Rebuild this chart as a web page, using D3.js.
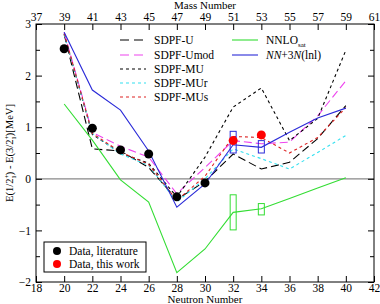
<!DOCTYPE html>
<html>
<head>
<meta charset="utf-8">
<script src="https://cdn.jsdelivr.net/npm/d3@7"></script>
<style>
  body { margin: 0; background: #fff; }
  text { font-family: "Liberation Serif", "DejaVu Serif", serif; }
</style>
</head>
<body>
<svg id="chart" width="380" height="304"></svg>
<script>
// neutron numbers for the model curves
const neutrons = [20, 22, 24, 26, 28, 30, 32, 34, 36, 38, 40];

const sdpfU    = [2.80, 0.58, 0.54, 0.22, -0.40, -0.05, 0.48, 0.19, 0.32, 0.78, 1.42];
const sdpfUmod = [2.84, 0.90, 0.63, 0.42, -0.29, 0.22, 0.74, 0.68, 0.71, 1.22, 1.90];
const sdpfMU   = [2.80, 0.86, 0.50, 0.30, -0.35, 0.42, 1.39, 1.76, 0.74, 1.17, 2.49];
const sdpfMUr  = [2.80, 0.88, 0.48, 0.26, -0.45, 0.00, 0.58, 0.39, 0.19, 0.51, 0.84];
const sdpfMUs  = [2.82, 0.88, 0.52, 0.28, -0.42, 0.05, 0.82, 0.80, 0.50, 0.80, 1.38];
const nnloSat  = [1.45, 0.75, -0.02, -0.45, -1.82, -1.36, -0.65, -0.58, -0.38, -0.18, 0.02];
const nn3n     = [2.84, 1.72, 1.33, 0.54, -0.55, -0.10, 0.66, 0.61, 0.90, 1.18, 1.37];

// uncertainty boxes at N=32, 34
const boxN     = [32, 34];
const nn3nLo   = [0.50, 0.50];
const nn3nHi   = [0.92, 0.74];
const nnloLo   = [-0.99, -0.70];
const nnloHi   = [-0.31, -0.48];

// experimental points
const litN   = [20, 22, 24, 26, 28, 30];
const litE   = [2.52, 0.98, 0.56, 0.48, -0.35, -0.08];
const thisN  = [32, 34];
const thisE  = [0.74, 0.85];

const xTicks = [18, 20, 22, 24, 26, 28, 30, 32, 34, 36, 38, 40, 42];
const yTicks = [-2, -1.5, -1, -0.5, 0, 0.5, 1, 1.5, 2, 2.5, 3];

const svg = d3.select("#chart");
const m = { left: 36, right: 6, top: 24, bottom: 22 };
const W = 380, H = 304;

const x = d3.scaleLinear().domain([18, 42]).range([m.left, W - m.right]);
const y = d3.scaleLinear().domain([-2, 3]).range([H - m.bottom, m.top]);

// zero line
svg.append("line")
  .attr("x1", x(18)).attr("x2", x(42))
  .attr("y1", y(0)).attr("y2", y(0))
  .attr("stroke", "#888").attr("stroke-width", 1.3);

const series = [
  { name: "SDPF-U",    vals: sdpfU,    color: "#000",    dash: "8,4" },
  { name: "SDPF-Umod", vals: sdpfUmod, color: "#ee44ee", dash: "8,4" },
  { name: "SDPF-MU",   vals: sdpfMU,   color: "#000",    dash: "3,3" },
  { name: "SDPF-MUr",  vals: sdpfMUr,  color: "#33e0f0", dash: "3,3" },
  { name: "SDPF-MUs",  vals: sdpfMUs,  color: "#dd2222", dash: "3,3" },
  { name: "NNLOsat",   vals: nnloSat,  color: "#33dd33", dash: null },
  { name: "NN+3N(lnl)",vals: nn3n,     color: "#2a2ad8", dash: null }
];

const line = d3.line().x((d, i) => x(neutrons[i])).y(d => y(d));

svg.append("g").selectAll("path")
  .data(series)
  .join("path")
  .attr("d", d => line(d.vals))
  .attr("fill", "none")
  .attr("stroke", d => d.color)
  .attr("stroke-width", 1.1)
  .attr("stroke-dasharray", d => d.dash);

// boxes
function boxes(lo, hi, color) {
  svg.append("g").selectAll("rect")
    .data(boxN)
    .join("rect")
    .attr("x", d => x(d) - 3)
    .attr("width", 6)
    .attr("y", (d, i) => y(hi[i]))
    .attr("height", (d, i) => y(lo[i]) - y(hi[i]))
    .attr("fill", "none")
    .attr("stroke", color)
    .attr("stroke-width", 1);
}
boxes(nn3nLo, nn3nHi, "#2a2ad8");
boxes(nnloLo, nnloHi, "#33dd33");

// data points
svg.append("g").selectAll("circle")
  .data(litN)
  .join("circle")
  .attr("cx", d => x(d))
  .attr("cy", (d, i) => y(litE[i]))
  .attr("r", 4.5)
  .attr("fill", "#000");

svg.append("g").selectAll("circle")
  .data(thisN)
  .join("circle")
  .attr("cx", d => x(d))
  .attr("cy", (d, i) => y(thisE[i]))
  .attr("r", 4.5)
  .attr("fill", "#f00");

// frame
svg.append("rect")
  .attr("x", x(18)).attr("y", y(3))
  .attr("width", x(42) - x(18)).attr("height", y(-2) - y(3))
  .attr("fill", "none").attr("stroke", "#000").attr("stroke-width", 1);

// axes, ticks pointing inward
const fs = "11.5px";
const axB = svg.append("g")
  .attr("transform", `translate(0,${y(-2)})`)
  .call(d3.axisBottom(x).tickValues(xTicks).tickSizeInner(-6).tickSizeOuter(0).tickPadding(2));
const axT = svg.append("g")
  .attr("transform", `translate(0,${y(3)})`)
  .call(d3.axisTop(x).tickValues(xTicks).tickSizeInner(-6).tickSizeOuter(0).tickPadding(3)
    .tickFormat(d => d + 19));
const axL = svg.append("g")
  .attr("transform", `translate(${x(18)},0)`)
  .call(d3.axisLeft(y).tickValues(yTicks).tickSizeInner(-6).tickSizeOuter(0).tickPadding(5)
    .tickFormat(d => Number.isInteger(d) ? String(d).replace("-", "\u2212") : ""));
const axR = svg.append("g")
  .attr("transform", `translate(${x(42)},0)`)
  .call(d3.axisRight(y).tickValues(yTicks).tickSizeInner(-6).tickSizeOuter(0).tickFormat(""));

[axB, axT, axL, axR].forEach(g => {
  g.select(".domain").remove();
  g.selectAll("text").attr("font-size", fs).attr("fill", "#000")
    .style("font-family", "Liberation Serif, serif");
});
axL.selectAll(".tick line").filter(d => !Number.isInteger(d)).attr("x2", 4);
axR.selectAll(".tick line").filter(d => !Number.isInteger(d)).attr("x2", -4);

// axis titles
svg.append("text").attr("x", (x(18) + x(42)) / 2).attr("y", 303)
  .attr("text-anchor", "middle").attr("font-size", "11px").text("Neutron Number");
svg.append("text").attr("x", (x(18) + x(42)) / 2).attr("y", 9)
  .attr("text-anchor", "middle").attr("font-size", "11px").text("Mass Number");

const yl = svg.append("text")
  .attr("transform", `translate(13,${(y(3) + y(-2)) / 2}) rotate(-90)`)
  .attr("text-anchor", "middle").attr("font-size", "10.5px");
yl.append("tspan").text("E(1/2");
yl.append("tspan").attr("font-size", "7px").attr("dy", -4).text("+");
yl.append("tspan").attr("font-size", "7px").attr("dx", -4).attr("dy", 7).text("1");
yl.append("tspan").attr("dy", -3).text(") - E(3/2");
yl.append("tspan").attr("font-size", "7px").attr("dy", -4).text("+");
yl.append("tspan").attr("font-size", "7px").attr("dx", -4).attr("dy", 7).text("1");
yl.append("tspan").attr("dy", -3).text(")[MeV]");

// model legend
const legRows = [
  { s: series[0], lx: 120, ty: 44 },
  { s: series[1], lx: 120, ty: 59 },
  { s: series[2], lx: 120, ty: 73 },
  { s: series[3], lx: 120, ty: 87 },
  { s: series[4], lx: 120, ty: 101 },
  { s: series[5], lx: 232, ty: 44 },
  { s: series[6], lx: 232, ty: 59 }
];
const leg = svg.append("g").selectAll("g").data(legRows).join("g");
leg.append("line")
  .attr("x1", d => d.lx).attr("x2", d => d.lx + 26)
  .attr("y1", d => d.ty - 4).attr("y2", d => d.ty - 4)
  .attr("stroke", d => d.s.color).attr("stroke-width", 1.1)
  .attr("stroke-dasharray", d => d.s.dash ? (d.s.dash === "8,4" ? "9,5" : "3,3") : null);
leg.append("text")
  .attr("x", d => d.lx + 34).attr("y", d => d.ty)
  .attr("font-size", fs)
  .each(function (d) {
    const t = d3.select(this);
    if (d.s.name === "NNLOsat") {
      t.append("tspan").text("NNLO");
      t.append("tspan").attr("font-size", "7px").attr("dy", 3).text("sat");
    } else if (d.s.name === "NN+3N(lnl)") {
      t.append("tspan").attr("font-style", "italic").text("NN");
      t.append("tspan").text("+3");
      t.append("tspan").attr("font-style", "italic").text("N");
      t.append("tspan").text("(lnl)");
    } else {
      t.text(d.s.name);
    }
  });

// data legend
const dl = svg.append("g");
dl.append("rect").attr("x", 44).attr("y", 242).attr("width", 102).attr("height", 30)
  .attr("fill", "#fff").attr("stroke", "#000").attr("stroke-width", 1);
const dItems = [{ c: "#000", t: "Data, literature", yy: 251 }, { c: "#f00", t: "Data, this work", yy: 264 }];
dl.selectAll("circle").data(dItems).join("circle")
  .attr("cx", 57).attr("cy", d => d.yy).attr("r", 4).attr("fill", d => d.c);
dl.selectAll("text").data(dItems).join("text")
  .attr("x", 69).attr("y", d => d.yy + 4).attr("font-size", fs).text(d => d.t);
</script>
</body>
</html>
